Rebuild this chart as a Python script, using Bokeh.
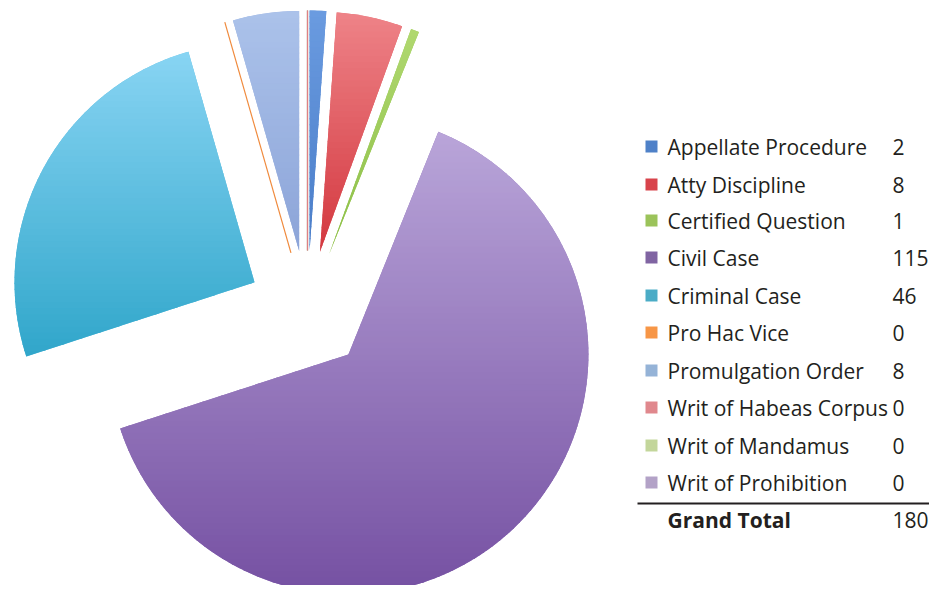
import numpy as np
from bokeh.plotting import figure
from bokeh.models import Range1d
from bokeh.core.properties import value
from bokeh.embed import file_html
from bokeh.resources import INLINE

categories = ["Appellate Procedure", "Atty Discipline", "Certified Question", "Civil Case",
              "Criminal Case", "Pro Hac Vice", "Promulgation Order", "Writ of Habeas Corpus",
              "Writ of Mandamus", "Writ of Prohibition"]
counts = [2, 8, 1, 115, 46, 0, 8, 0, 0, 0]
grand_total_label = "Grand Total"
grand_total = 180

# slice gradient colours (top, bottom)
slice_top = ["#6A9BE0", "#EE8388", "#B0D870", "#B9A5D9", "#88D4F3", "#F9A96A",
             "#ABC2EA", "#EBA0A4", "#C8E2A4", "#C2B4D6"]
slice_bottom = ["#4A7DC8", "#D3373E", "#8BBE45", "#7550A2", "#30A6CA", "#F08A3C",
                "#8CA4D8", "#E07F84", "#B2D48A", "#A493C0"]
key_colors = ["#4F81C8", "#D8434B", "#9BC35A", "#8064A2", "#4BACC6", "#F79646",
              "#95B3D7", "#E0888D", "#C3D69B", "#B3A2C7"]

W, H = 929, 585
REF_H = 593
p = figure(width=W, height=H, output_backend="svg", toolbar_location=None,
           x_range=Range1d(0, W), y_range=Range1d(REF_H - H, REF_H), min_border=0)
p.axis.visible = False
p.grid.visible = False
p.outline_line_color = None
p.background_fill_color = "white"
p.border_fill_color = "white"


def hex2rgb(h):
    h = h.lstrip("#")
    return np.array([int(h[i:i + 2], 16) for i in (0, 2, 4)], dtype=float)


def rgb2hex(c):
    c = np.clip(np.round(c), 0, 255).astype(int)
    return "#%02x%02x%02x" % tuple(c)


def clip_half(poly, y0, keep_above):
    out = []
    n = len(poly)
    for k in range(n):
        a = poly[k]
        b = poly[(k + 1) % n]
        ina = (a[1] >= y0) if keep_above else (a[1] <= y0)
        inb = (b[1] >= y0) if keep_above else (b[1] <= y0)
        if ina:
            out.append(a)
        if ina != inb:
            t = (y0 - a[1]) / (b[1] - a[1])
            out.append((a[0] + t * (b[0] - a[0]), y0))
    return out


cx, cy, R, EXPL = 307.0, REF_H - 310.0, 240.0, 60.0
total = float(sum(counts))
ang = np.cumsum([0] + counts) / total * 2 * np.pi  # clockwise from north
starts_cw, ends_cw = ang[:-1], ang[1:]
mids = (starts_cw + ends_cw) / 2

wx, wy, sa, ea, wc = [], [], [], [], []
zx0, zy0, zx1, zy1, zc = [], [], [], [], []
gxs, gys, gcol = [], [], []
for i, c in enumerate(counts):
    m = mids[i]
    ax = cx + EXPL * np.sin(m)
    ay = cy + EXPL * np.cos(m)
    if c > 0:
        wx.append(ax); wy.append(ay)
        sa.append(np.pi / 2 - ends_cw[i]); ea.append(np.pi / 2 - starts_cw[i])
        top, bot = hex2rgb(slice_top[i]), hex2rgb(slice_bottom[i])
        wc.append(rgb2hex((top + bot) / 2))
        t = np.linspace(starts_cw[i], ends_cw[i], max(4, int(np.degrees(ends_cw[i] - starts_cw[i]) * 2)))
        poly = [(ax, ay)] + [(ax + R * np.sin(v), ay + R * np.cos(v)) for v in t]
        ymin = min(q[1] for q in poly)
        ymax = max(q[1] for q in poly)
        nb = max(8, int((ymax - ymin) / 6))
        edges = np.linspace(ymin, ymax, nb + 1)
        for b in range(nb):
            lo, hi = edges[b] - 0.6, edges[b + 1] + 0.6
            piece = clip_half(clip_half(poly, lo, True), hi, False)
            if len(piece) < 3:
                continue
            f = (b + 0.5) / nb  # 0 at bottom, 1 at top (data y points up)
            gxs.append([q[0] for q in piece])
            gys.append([q[1] for q in piece])
            gcol.append(rgb2hex(bot + (top - bot) * f))
    else:
        zx0.append(ax); zy0.append(ay)
        zx1.append(ax + R * np.sin(m)); zy1.append(ay + R * np.cos(m))
        zc.append(slice_bottom[i])

p.wedge(x=wx, y=wy, radius=R, start_angle=sa, end_angle=ea, fill_color=wc,
        line_color=None)
p.patches(xs=gxs, ys=gys, fill_color=gcol, line_color=None)
# zero-valued slices render as hairlines
p.segment(x0=zx0[::-1], y0=zy0[::-1], x1=zx1[::-1], y1=zy1[::-1], line_color=zc[::-1],
          line_width=1.2)

# legend table
row_y_ref = [146, 184, 220, 257, 295, 332, 370, 407, 445, 482]
ly = [REF_H - v for v in row_y_ref]
FS = "21px"
p.rect(x=[651] * len(ly), y=ly, width=12, height=12, fill_color=key_colors,
       line_color=None)
p.text(x=[667] * len(ly), y=ly, text=categories, text_font=value("Open Sans"),
       text_font_size=FS, text_baseline="middle", text_color="#231F20")
p.text(x=[892] * len(ly), y=ly, text=[str(c) for c in counts], text_font=value("Open Sans"),
       text_font_size=FS, text_baseline="middle", text_color="#231F20")
p.segment(x0=[637], y0=[REF_H - 503], x1=[940], y1=[REF_H - 503], line_color="#231F20",
          line_width=2)
p.text(x=[667], y=[REF_H - 519], text=[grand_total_label], text_font=value("Open Sans"),
       text_font_size=FS, text_font_style="bold", text_baseline="middle",
       text_color="#231F20")
p.text(x=[892], y=[REF_H - 519], text=[str(grand_total)], text_font=value("Open Sans"),
       text_font_size=FS, text_baseline="middle", text_color="#231F20")

open("out.html", "w").write(file_html(p, INLINE))
